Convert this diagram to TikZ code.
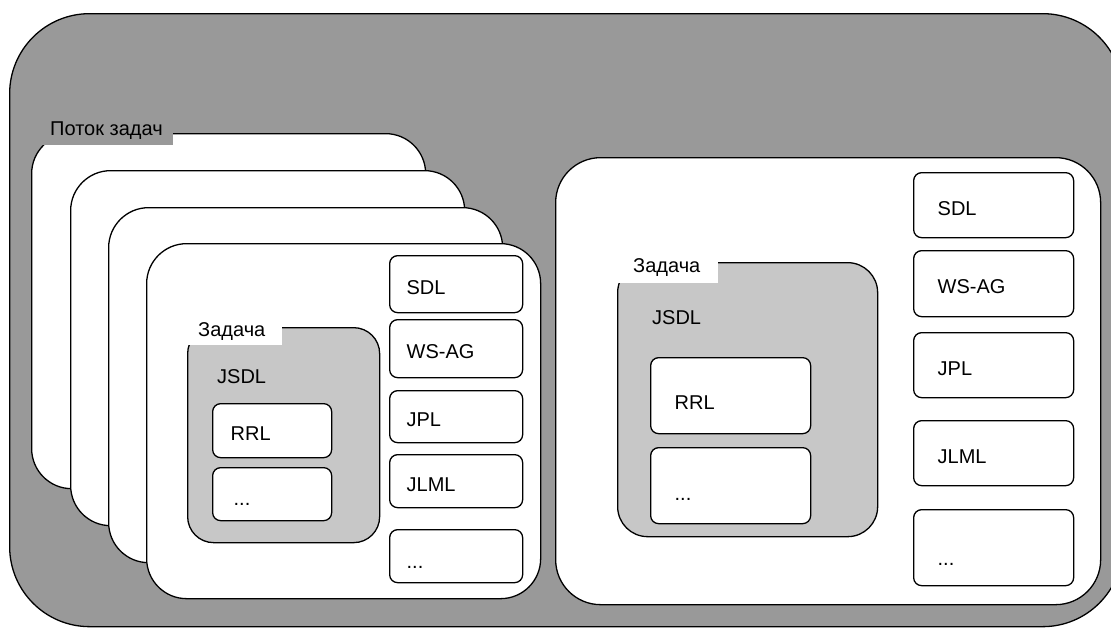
\documentclass[tikz,border=0pt]{standalone}
\usepackage{fontspec}
\setmainfont{Liberation Sans}
\definecolor{flowgray}{gray}{0.6}
\definecolor{taskgray}{gray}{0.78}
\tikzset{%
  panel/.style={draw, line width=1.3pt, anchor=north west, inner sep=0pt},
  card/.style={panel, fill=white, rounded corners=40pt},
  taskbox/.style={panel, fill=taskgray, rounded corners=26pt},
  part/.style={panel, fill=white, rounded corners=8pt, align=left,
    text height=20pt, text depth=0pt},
  lpart/.style={part, inner xsep=17pt, minimum width=133pt, text width=99pt},
  rpart/.style={part, inner xsep=24pt, minimum width=160pt, text width=112pt},
  tab/.style={anchor=north west, inner ysep=0pt},
  caption/.style={anchor=west, inner sep=0pt},
}
\begin{document}
\begin{tikzpicture}[x=1pt, y=-1pt, font=\fontsize{20}{24}\selectfont]
  \useasboundingbox (0,0) rectangle (1111,627);
  % outer frame
  \node[panel, fill=flowgray, rounded corners=80pt,
    minimum width=1113pt, minimum height=613pt] (frame) at (9,13) {};
  % stack of task flows
  \foreach \x/\y [count=\i] in {31/133, 70/170, 108/207, 146/243}
    \node[card, minimum width=394pt, minimum height=355pt] (card\i) at (\x,\y) {};
  \node[tab, fill=flowgray, inner xsep=10pt, minimum height=29pt] (flow) at (40,116) {Поток задач};
  % task inside the front card
  \node[taskbox, minimum width=192pt, minimum height=215pt] (taskL) at (187,327) {};
  \node[tab, fill=white, inner xsep=17pt, minimum height=28pt] (taskLtab) at (181,317) {Задача};
  \node[caption] (jsdlL) at (217,377) {JSDL};
  \node[part, inner xsep=18pt, minimum width=119pt, text width=83pt,
    minimum height=54pt] (rrlL) at (212,403) {RRL};
  \node[part, inner xsep=21pt, minimum width=119pt, text width=77pt,
    minimum height=53pt, text height=23pt] (rrlLdots) at (212,467) {...};
  % parts of the front card
  \node[lpart, minimum height=57pt] (sdlL)  at (389,255) {SDL};
  \node[lpart, minimum height=58pt] (wsagL) at (389,319) {WS-AG};
  \node[lpart, minimum height=52pt] (jplL)  at (389,390) {JPL};
  \node[lpart, minimum height=53pt] (jlmlL) at (389,454) {JLML};
  \node[lpart, minimum height=53pt, text height=25pt] (dotsL) at (389,529) {...};
  % single task card
  \node[card, rounded corners=45pt, minimum width=545pt, minimum height=447pt] (single) at (555,157) {};
  \node[taskbox, rounded corners=30pt, minimum width=260pt, minimum height=274pt] (taskR) at (617,262) {};
  \node[tab, fill=white, inner xsep=18pt, minimum height=31pt] (taskRtab) at (615,252) {Задача};
  \node[caption] (jsdlR) at (652,318) {JSDL};
  \node[rpart, minimum height=76pt, text height=28pt] (rrlR) at (650,357) {RRL};
  \node[rpart, minimum height=76pt, text height=30pt] (rrlRdots) at (650,447) {...};
  % parts of the single card
  \node[rpart, minimum height=65pt] (sdlR)  at (913,172) {SDL};
  \node[rpart, minimum height=66pt] (wsagR) at (913,250) {WS-AG};
  \node[rpart, minimum height=65pt] (jplR)  at (913,332) {JPL};
  \node[rpart, minimum height=65pt] (jlmlR) at (913,420) {JLML};
  \node[rpart, minimum height=76pt, text height=36pt] (dotsR) at (913,509) {...};
\end{tikzpicture}
\end{document}
